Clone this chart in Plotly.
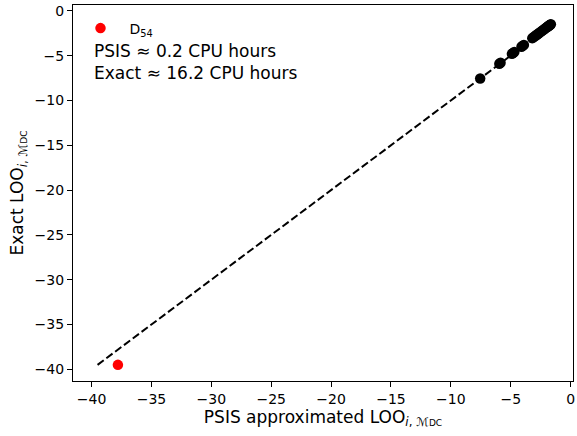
import plotly.graph_objects as go

# PSIS approximated vs exact LOO values
psis_loo = [-7.55, -5.95, -5.85, -4.9, -4.8, -4.7, -4.1, -4.0, -3.9,
            -3.2, -3.1, -3.0, -2.9, -2.8, -2.7, -2.6, -2.5, -2.4, -2.3,
            -2.2, -2.1, -2.0, -1.95, -1.9, -1.85, -1.8, -1.75, -1.7, -1.65]
exact_loo = [-7.55, -5.9, -5.8, -4.8, -4.7, -4.6, -4.0, -3.9, -3.8,
             -3.05, -2.95, -2.85, -2.75, -2.65, -2.55, -2.45, -2.35, -2.25, -2.15,
             -2.05, -1.95, -1.85, -1.8, -1.75, -1.7, -1.65, -1.6, -1.55, -1.5]
outlier_psis = [-37.8]
outlier_exact = [-39.5]
outlier_name = "\u00a0\u00a0D<sub>54</sub>"
diag = [-39.5, -1.5]

x_ticks = [-40, -35, -30, -25, -20, -15, -10, -5, 0]
y_ticks = [0, -5, -10, -15, -20, -25, -30, -35, -40]
x_range = [-41.55, 0.2]
y_range = [-41.3, 0.65]

def lab(v):
    return ("\u2212" + str(abs(v))) if v < 0 else str(v)

font = "DejaVu Sans"
sub_txt = "<sub><i>i</i>, <i>ℳ</i><span style='font-size:9px'>DC</span></sub>"

fig = go.Figure()
fig.add_trace(go.Scatter(x=diag, y=diag, mode="lines",
                         line=dict(color="black", width=2, dash="7.7px,3.3px"),
                         showlegend=False, hoverinfo="skip"))
fig.add_trace(go.Scatter(x=psis_loo, y=exact_loo, mode="markers",
                         marker=dict(color="black", size=10.5, line=dict(width=0)),
                         showlegend=False))
fig.add_trace(go.Scatter(x=outlier_psis, y=outlier_exact, mode="markers",
                         marker=dict(color="red", size=10.5, line=dict(width=0)),
                         name=outlier_name, showlegend=True))

axis_common = dict(showline=True, linecolor="black", linewidth=1.2, mirror=True,
                   ticks="outside", ticklen=5, tickwidth=1, tickcolor="black",
                   showgrid=False, zeroline=False,
                   tickfont=dict(family=font, size=14, color="black"))

fig.update_layout(
    width=577, height=436,
    margin=dict(l=73, r=4, t=5, b=55, autoexpand=False),
    paper_bgcolor="white", plot_bgcolor="white",
    font=dict(family=font, color="black"),
    xaxis=dict(range=x_range, tickvals=x_ticks,
               ticktext=[lab(v) for v in x_ticks],
               title=dict(text="PSIS approximated LOO" + sub_txt,
                          font=dict(family=font, size=17), standoff=4),
               **axis_common),
    yaxis=dict(range=y_range, tickvals=y_ticks,
               ticktext=[lab(v) for v in y_ticks],
               title=dict(text="Exact LOO" + sub_txt,
                          font=dict(family=font, size=17), standoff=6),
               **axis_common),
    legend=dict(x=0.015, y=0.98, xanchor="left", yanchor="top",
                bgcolor="rgba(255,255,255,0)", borderwidth=0,
                font=dict(family=font, size=14)),
    annotations=[dict(xref="paper", yref="paper", x=0.037, y=0.909,
                      xanchor="left", yanchor="top", align="left", showarrow=False,
                      text="PSIS ≈ 0.2 CPU hours<br>Exact ≈ 16.2 CPU hours",
                      font=dict(family=font, size=17, color="black"))],
)

fig.write_html("out.html", config={"displayModeBar": False},
               post_script="document.body.style.margin='0';document.body.style.overflow='hidden';")
